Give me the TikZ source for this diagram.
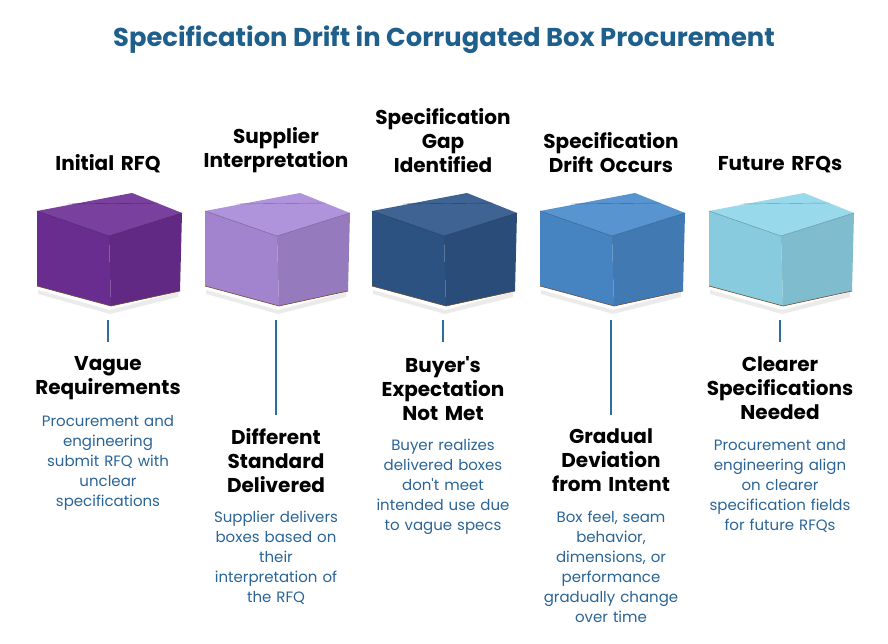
\documentclass[tikz,border=0pt]{standalone}
\usepackage{fontspec}
\setmainfont{Poppins}[Ligatures=TeXOff]
\begin{document}
\begin{tikzpicture}[x=1pt,y=-1pt,
 ttl/.style={font=\fontsize{25.8}{30}\selectfont\bfseries,text=titleblue},
 hdr/.style={font=\fontsize{20}{24}\selectfont\bfseries,align=center,anchor=south,inner sep=0pt,text width=180pt},
 st/.style={font=\fontsize{20}{24}\selectfont\bfseries,align=center,anchor=north,inner sep=0pt,text width=180pt},
 ds/.style={font=\fontsize{15}{20}\selectfont,text=descblue,align=center,anchor=north,inner sep=0pt,text width=160pt},
 ln/.style={line width=1.6pt,draw=lineblue}]
\definecolor{titleblue}{HTML}{1F5F8B}
\definecolor{descblue}{HTML}{2A6496}
\definecolor{lineblue}{HTML}{2E6E9E}
\definecolor{c1}{HTML}{6E2F96}
\definecolor{c2}{HTML}{A98BD8}
\definecolor{c3}{HTML}{2E5688}
\definecolor{c4}{HTML}{4A8BCB}
\definecolor{c5}{HTML}{8FD6EA}
\useasboundingbox (0,0) rectangle (888,644);
\node[ttl] (title) at (444,40) {Specification Drift in Corrugated Box Procurement};
\newcommand{\cbox}[2]{%
 \begin{scope}[shift={(#1,0)}]
 \fill[black!8] (-70,290) -- (2,310) -- (70,292) -- (70,297) -- (2,314) -- (-70,294) -- cycle;
 \fill[#2!95!black] (-71,211) -- (1,236) -- (3,306) -- (-71,286) -- cycle;
 \fill[#2!88!black] (1,236) -- (74,213) -- (72,291) -- (3,306) -- cycle;
 \fill[#2!92!white] (-71,211) -- (24,193) -- (74,213) -- (1,236) -- cycle;
 \draw[#2!75!black,line width=0.4pt] (-40,204) -- (50,203);
 \draw[#2!70!black,line width=0.5pt] (-71,211) -- (1,236) -- (74,213);
 \draw[brown!60!black,line width=0.6pt] (-71,286) -- (3,306) -- (72,291);
 \end{scope}}
\cbox{108}{c1}
\cbox{276}{c2}
\cbox{443}{c3}
\cbox{611}{c4}
\cbox{780}{c5}
\node[hdr] (h1) at (108,173) {Initial RFQ};
\node[hdr] (h2) at (276,173) {Supplier\\Interpretation};
\node[hdr] (h3) at (443,173) {Specification\\Gap\\Identified};
\node[hdr] (h4) at (611,173) {Specification\\Drift Occurs};
\node[hdr] (h5) at (780,173) {Future RFQs};
\coordinate (a1) at (108,320); \coordinate (b1) at (108,342);
\coordinate (a2) at (276,320); \coordinate (b2) at (276,415);
\coordinate (a3) at (443,320); \coordinate (b3) at (443,342);
\coordinate (a4) at (611,320); \coordinate (b4) at (611,415);
\coordinate (a5) at (780,320); \coordinate (b5) at (780,342);
\foreach \i in {1,...,5}{\draw[ln] (a\i) -- (b\i);}
\node[st] (s1) at (108,356) {Vague\\Requirements};
\node[st] (s2) at (276,428) {Different\\Standard\\Delivered};
\node[st] (s3) at (443,356) {Buyer's\\Expectation\\Not Met};
\node[st] (s4) at (611,428) {Gradual\\Deviation\\from Intent};
\node[st] (s5) at (780,356) {Clearer\\Specifications\\Needed};
\node[ds] (d1) at (108,415) {Procurement and\\engineering\\submit RFQ with\\unclear\\specifications};
\node[ds] (d2) at (276,511) {Supplier delivers\\boxes based on\\their\\interpretation of\\the RFQ};
\node[ds] (d3) at (443,439) {Buyer realizes\\delivered boxes\\don't meet\\intended use due\\to vague specs};
\node[ds] (d4) at (611,511) {Box feel, seam\\behavior,\\dimensions, or\\performance\\gradually change\\over time};
\node[ds] (d5) at (780,439) {Procurement and\\engineering align\\on clearer\\specification fields\\for future RFQs};
\end{tikzpicture}
\end{document}
